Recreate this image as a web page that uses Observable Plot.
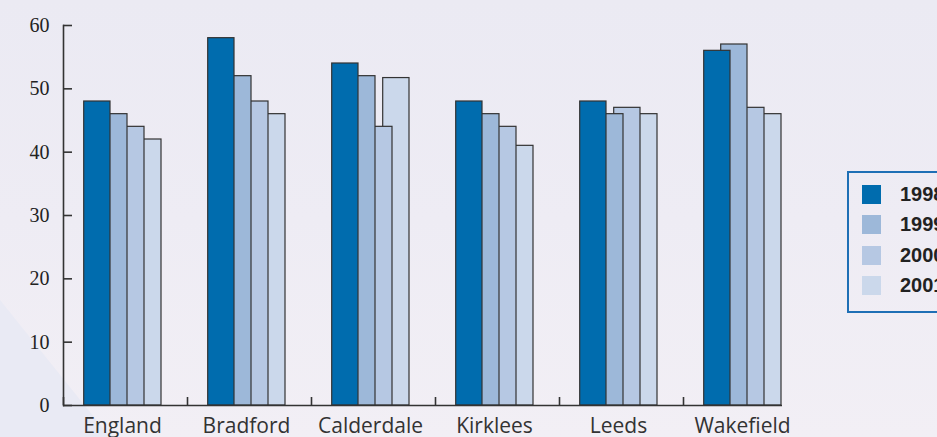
<!DOCTYPE html>
<html>
<head>
<meta charset="utf-8">
<script src="https://cdn.jsdelivr.net/npm/d3@7"></script>
<script src="https://cdn.jsdelivr.net/npm/@observablehq/plot@0.6"></script>
<style>
  html, body { margin: 0; padding: 0; width: 937px; height: 437px; overflow: hidden; }
  body {
    position: relative;
    background: linear-gradient(180deg, #ebeaf3 0%, #eeecf4 50%, #f2eff5 100%);
  }
  #tri {
    position: absolute; left: 0; top: 0; width: 937px; height: 437px;
    background: #e9eaf4;
    clip-path: polygon(0 300px, 110px 437px, 0 437px);
  }
  #chart { position: absolute; left: 0; top: 0; }
  #legend {
    position: absolute; left: 847px; top: 171px; width: 140px; height: 142px;
    border: 2.5px solid #1e6fb5; box-sizing: border-box;
    font-family: "Liberation Sans", Arial, sans-serif; font-weight: bold; font-size: 20px; color: #222;
  }
  .item { position: absolute; left: 13px; height: 19px; display: flex; align-items: center; }
  .sw { width: 19px; height: 19px; margin-right: 19px; }
</style>
</head>
<body>
<div id="tri"></div>
<div id="chart"></div>
<div id="legend"></div>
<script>
const regions = ["England", "Bradford", "Calderdale", "Kirklees", "Leeds", "Wakefield"];
const years = ["1998", "1999", "2000", "2001"];
const v1998 = [48, 58, 54, 48, 48, 56];
const v1999 = [46, 52, 52, 46, 46, 57];
const v2000 = [44, 48, 44, 44, 47, 47];
const v2001 = [42, 46, 51.7, 41, 46, 46];
const yTicks = [0, 10, 20, 30, 40, 50, 60];
const colors = ["#006cae", "#9db8d9", "#b6c8e3", "#cbd8eb"];

const series = [v1998, v1999, v2000, v2001];
const rows = [];
// later years first, so the 1998 bar is drawn on top of the overlap
for (let j = years.length - 1; j >= 0; j--) {
  regions.forEach((r, i) => rows.push({region: r, year: years[j], value: series[j][i]}));
}

const chart = Plot.plot({
  width: 937,
  height: 437,
  marginLeft: 63,
  marginRight: 130,
  marginTop: 25,
  marginBottom: 32,
  style: {background: "transparent", overflow: "visible"},
  fx: {domain: regions, padding: 0, label: null},
  x: {domain: years, paddingInner: 0, paddingOuter: 1.5, align: 0.53, axis: null},
  y: {domain: [0, 60], label: null},
  color: {domain: years, range: colors},
  marks: [
    Plot.barY(rows, {fx: "region", x: "year", y: "value", fill: "year", stroke: "#333", strokeWidth: 1.2, insetLeft: -9.3}),
    Plot.frame({anchor: "left", facetAnchor: "left", stroke: "#333", strokeWidth: 1.6}),
    Plot.ruleY(regions.slice(0, -1), {fx: d => d, y: 0, stroke: "#333", strokeWidth: 1.6}),
    Plot.ruleY(regions.slice(-1), {fx: d => d, y: 0, stroke: "#333", strokeWidth: 1.6, insetRight: 25}),
    Plot.axisY(yTicks, {tickSize: 0, tickPadding: 14, fontSize: 20, fontFamily: "Liberation Serif, Times New Roman, serif", fill: "#222", label: null}),
    Plot.axisY(yTicks, {tickSize: 9, dx: 9, tickFormat: () => "", stroke: "#333", strokeWidth: 1.6, label: null}),
    Plot.axisFx({anchor: "bottom", tickSize: 0, tickPadding: 13, fontSize: 21, fontFamily: "Open Sans, sans-serif", fill: "#333", dx: -3, label: null}),
    Plot.axisFx({anchor: "bottom", tickSize: 8, dy: -8, dx: -62, tickFormat: () => "", stroke: "#333", strokeWidth: 1.6, label: null})
  ]
});
document.getElementById("chart").appendChild(chart);

const legend = document.getElementById("legend");
years.forEach((y, i) => {
  const item = document.createElement("div");
  item.className = "item";
  item.style.top = (12 + i * 30.3) + "px";
  const sw = document.createElement("div");
  sw.className = "sw";
  sw.style.background = colors[i];
  const t = document.createElement("span");
  t.textContent = y;
  item.appendChild(sw);
  item.appendChild(t);
  legend.appendChild(item);
});
</script>
</body>
</html>
